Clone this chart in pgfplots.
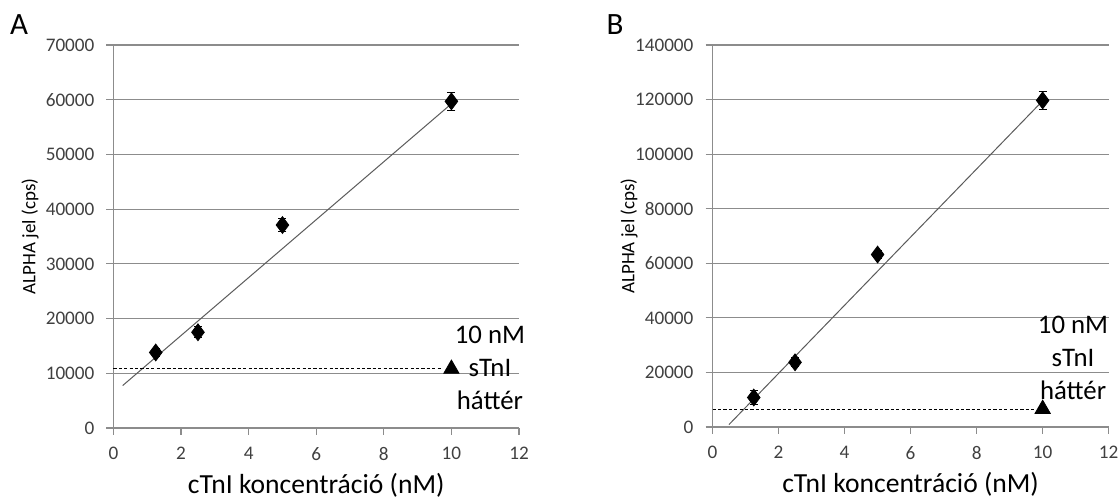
\documentclass[border=0pt]{standalone}
\usepackage{fontspec}
\setmainfont{Carlito}
\usepackage{pgfplots}
\pgfplotsset{compat=1.18}
\definecolor{gridc}{HTML}{8C8C8C}
\definecolor{tickc}{HTML}{404040}
\definecolor{trend}{HTML}{5A5A5A}
\pgfplotsset{
  panel/.style={
    scale only axis, clip=false,
    axis x line*=bottom, axis y line*=left,
    axis line style={gridc, line width=0.6pt, -},
    ymajorgrids, grid style={gridc, line width=0.6pt},
    xmin=0, xmax=12, xtick={0,2,...,12}, ymin=0,
    tick align=outside, major tick length=3.5pt,
    tick style={gridc, line width=0.6pt},
    ticklabel style={font=\fontsize{9.6}{11}\selectfont, text=tickc},
    yticklabel style={xshift=-2.5pt},
    xticklabel style={yshift=-2.5pt},
    /pgf/number format/fixed,
    /pgf/number format/assume math mode=true,
    /pgf/number format/1000 sep={},
    scaled y ticks=false,
    xlabel={cTnI koncentráció (nM)}, ylabel={ALPHA jel (cps)},
    xlabel style={font=\fontsize{13.8}{16}\selectfont, text=black, at={(axis description cs:0.5,0)}, anchor=center, yshift=-28.5pt},
    ylabel style={font=\fontsize{9.5}{11}\selectfont, text=black, at={(axis description cs:0,0.5)}, anchor=center, yshift=41.75pt},
  },
  pts/.style={only marks, mark=diamond*, mark size=4.2pt, black,
    error bars/.cd, y dir=both, y explicit,
    error bar style={black, line width=0.5pt},
    error mark options={rotate=90, black, mark size=2pt, line width=0.5pt}},
}
\tikzset{note/.style={align=center, font=\fontsize{13.4}{16.5}\selectfont}}
\begin{document}
\begin{tikzpicture}
\useasboundingbox (0,0) rectangle (560pt,251pt);
\node[font=\fontsize{15.5}{18}\selectfont] at (9.5pt,238.5pt) {A};
\node[font=\fontsize{15.5}{18}\selectfont] at (307.5pt,238.5pt) {B};

% panel A
\begin{axis}[panel, at={(56.75pt,37pt)}, anchor=south west,
  width=202.75pt, height=191.5pt, ymax=70000, ytick={0,10000,...,70000}]
  \addplot[trend, line width=0.5pt] coordinates {(0.27,7750) (9.97,59100)};
  \addplot[black, dashed, dash pattern=on 1.6pt off 1.1pt, line width=0.5pt] coordinates {(0,10800) (9.74,10800)};
  \addplot[only marks, mark=triangle*, mark size=4.4pt, black] coordinates {(10,10800)};
  \addplot[pts] coordinates {
    (1.25,13800) +- (0,700)
    (2.5,17500) +- (0,1000)
    (5,37100) +- (0,1100)
    (10,59700) +- (0,1600)
  };
  \node[note] at (axis cs:11.14,10970) {10 nM\\sTnI\\háttér};
\end{axis}

% panel B
\begin{axis}[panel, at={(356.25pt,37.5pt)}, anchor=south west,
  width=198.1pt, height=191pt, ymax=140000, ytick={0,20000,...,140000}]
  \addplot[trend, line width=0.5pt] coordinates {(0.5,900) (9.94,118800)};
  \addplot[black, dashed, dash pattern=on 1.6pt off 1.1pt, line width=0.5pt] coordinates {(0,6500) (9.8,6500)};
  \addplot[only marks, mark=triangle*, mark size=4.4pt, black] coordinates {(10,6600)};
  \addplot[pts] coordinates {
    (1.25,10800) +- (0,2400)
    (2.5,23700) +- (0,1600)
    (5,63200) +- (0,1500)
    (10,119700) +- (0,3400)
  };
  \node[note] at (axis cs:10.92,25400) {10 nM\\sTnI\\háttér};
\end{axis}
\end{tikzpicture}
\end{document}
